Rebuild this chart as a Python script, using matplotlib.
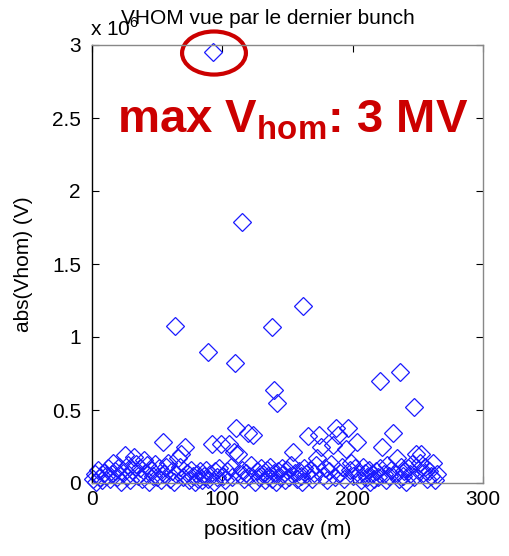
import numpy as np
import matplotlib
matplotlib.use("Agg")
import matplotlib.pyplot as plt
from matplotlib.patches import Ellipse
from matplotlib.ticker import FixedLocator, FuncFormatter

plt.rcParams['font.family'] = ['Liberation Sans', 'DejaVu Sans']
plt.rcParams['mathtext.fontset'] = 'custom'
plt.rcParams['mathtext.rm'] = 'Liberation Sans'
plt.rcParams['mathtext.bf'] = 'Liberation Sans:bold'

# position des cavites (m) - bande basse
pos_band = [
    0.5, 2.0, 3.4, 4.9, 6.3, 7.8, 9.2, 10.7, 12.1, 13.6,
    15.0, 16.4, 17.9, 19.3, 20.8, 22.2, 23.7, 25.1, 26.6, 28.0,
    29.5, 30.9, 32.4, 33.8, 35.3, 36.7, 38.2, 39.6, 41.1, 42.5,
    44.0, 45.4, 46.9, 48.3, 49.8, 51.2, 52.7, 54.1, 55.6, 57.0,
    58.5, 59.9, 61.4, 62.8, 64.3, 65.7, 67.2, 68.6, 70.1, 71.5,
    73.0, 74.4, 75.9, 77.3, 78.8, 80.2, 81.7, 83.1, 84.6, 86.0,
    87.5, 88.9, 90.4, 91.8, 93.3, 94.7, 96.2, 97.6, 99.1, 100.5,
    102.0, 103.4, 104.9, 106.3, 107.8, 109.2, 110.7, 112.1, 113.6, 115.0,
    116.5, 117.9, 119.4, 120.8, 122.3, 123.7, 125.2, 126.6, 128.1, 129.5,
    131.0, 132.4, 133.9, 135.3, 136.8, 138.2, 139.7, 141.1, 142.6, 144.0,
    145.5, 146.9, 148.4, 149.8, 151.3, 152.7, 154.2, 155.6, 157.1, 158.5,
    160.0, 161.4, 162.9, 164.3, 165.8, 167.2, 168.7, 170.1, 171.6, 173.0,
    174.5, 175.9, 177.4, 178.8, 180.3, 181.7, 183.2, 184.6, 186.1, 187.5,
    189.0, 190.4, 191.9, 193.3, 194.8, 196.2, 197.7, 199.1, 200.6, 202.0,
    203.5, 204.9, 206.4, 207.8, 209.3, 210.7, 212.2, 213.6, 215.1, 216.5,
    218.0, 219.4, 220.9, 222.3, 223.8, 225.2, 226.7, 228.1, 229.6, 231.0,
    232.5, 233.9, 235.4, 236.8, 238.3, 239.7, 241.2, 242.6, 244.1, 245.5,
    247.0, 248.4, 249.9, 251.3, 252.8, 254.2, 255.7, 257.1, 258.6, 260.0,
    261.5, 262.9, 264.4,
]
# abs(Vhom) en MV
vhom_band = [
    0.03, 0.06, 0.01, 0.09, 0.04, 0.02, 0.07, 0.05, 0.10, 0.03,
    0.06, 0.14, 0.08, 0.04, 0.11, 0.01, 0.07, 0.19, 0.05, 0.12,
    0.02, 0.09, 0.18, 0.13, 0.05, 0.10, 0.03, 0.16, 0.07, 0.12,
    0.01, 0.09, 0.05, 0.13, 0.04, 0.10, 0.02, 0.28, 0.06, 0.11,
    0.14, 0.03, 0.08, 0.01, 0.06, 0.17, 0.11, 0.20, 0.04, 0.25,
    0.07, 0.02, 0.09, 0.05, 0.01, 0.06, 0.03, 0.08, 0.02, 0.05,
    0.09, 0.03, 0.06, 0.27, 0.01, 0.08, 0.04, 0.10, 0.27, 0.05,
    0.02, 0.08, 0.27, 0.11, 0.04, 0.21, 0.38, 0.20, 0.06, 0.09,
    0.03, 0.07, 0.34, 0.05, 0.12, 0.33, 0.01, 0.08, 0.04, 0.10,
    0.06, 0.02, 0.09, 0.05, 0.11, 0.03, 0.07, 0.01, 0.08, 0.04,
    0.10, 0.06, 0.02, 0.09, 0.04, 0.12, 0.21, 0.07, 0.03, 0.08,
    0.05, 0.01, 0.10, 0.06, 0.32, 0.09, 0.03, 0.07, 0.12, 0.17,
    0.33, 0.25, 0.05, 0.10, 0.02, 0.08, 0.13, 0.26, 0.04, 0.38,
    0.33, 0.07, 0.11, 0.03, 0.23, 0.38, 0.09, 0.14, 0.05, 0.10,
    0.28, 0.06, 0.02, 0.11, 0.07, 0.04, 0.09, 0.01, 0.06, 0.03,
    0.08, 0.04, 0.10, 0.25, 0.06, 0.02, 0.12, 0.05, 0.09, 0.34,
    0.07, 0.17, 0.03, 0.11, 0.05, 0.08, 0.01, 0.10, 0.06, 0.13,
    0.04, 0.20, 0.09, 0.14, 0.20, 0.07, 0.11, 0.03, 0.08, 0.05,
    0.14, 0.02, 0.06,
]
# pics
pos_peak = [93, 115, 64, 89, 110, 138, 140, 142, 162, 221, 236, 247]
vhom_peak = [2.95, 1.79, 1.075, 0.90, 0.82, 1.07, 0.64, 0.55, 1.21, 0.70, 0.76, 0.52]

pos = np.array(pos_band + pos_peak)
vhom = np.array(vhom_band + vhom_peak) * 1e6

xticks = [0, 100, 200, 300]
yticks = [0, 0.5e6, 1e6, 1.5e6, 2e6, 2.5e6, 3e6]

fig = plt.figure(figsize=(5.10, 5.56), dpi=100)
ax = fig.add_axes([92 / 510, 1 - 483 / 556, 391 / 510, 438 / 556])

ax.plot(pos, vhom, 'D', markerfacecolor='none', markeredgecolor='#1a1aff',
        markeredgewidth=0.9, markersize=9, clip_on=False)

ax.set_xlim(0, 300)
ax.set_ylim(0, 3e6)
ax.xaxis.set_major_locator(FixedLocator(xticks))
ax.yaxis.set_major_locator(FixedLocator(yticks))
ax.yaxis.set_major_formatter(FuncFormatter(lambda v, p: f"{v / 1e6:g}"))
ax.tick_params(direction='in', length=5, width=0.8, labelsize=15,
               top=True, right=True)
ax.tick_params(axis='y', pad=8)
ax.tick_params(axis='x', pad=5)

ax.spines['left'].set_color('black')
for s in ['right', 'top', 'bottom']:
    ax.spines[s].set_color('#888888')
for s in ax.spines.values():
    s.set_linewidth(1.0)

ax.set_xlabel('position cav (m)', fontsize=15)
ax.xaxis.set_label_coords(0.476, -0.085)
ax.set_ylabel('abs(Vhom) (V)', fontsize=15)
ax.yaxis.set_label_coords(-0.152, 0.5)

fig.text(90 / 510, 1 - 29 / 556, 'x 10$^6$', fontsize=15, ha='left', va='center')
fig.text(268 / 510, 1 - 18 / 556, 'VHOM vue par le dernier bunch', fontsize=15,
         ha='center', va='center')

# annotation rouge
red = '#cc0000'
ax.add_patch(Ellipse((93.6, 2.945e6), 49, 0.295e6, fill=False, edgecolor=red,
                     linewidth=3, clip_on=False))
fig.text(117 / 510, 1 - 132 / 556, r'max V$_{\mathbf{hom}}$: 3 MV', color=red,
         fontsize=34, fontweight='bold', ha='left', va='baseline')

fig.savefig('out.png', dpi=100)
